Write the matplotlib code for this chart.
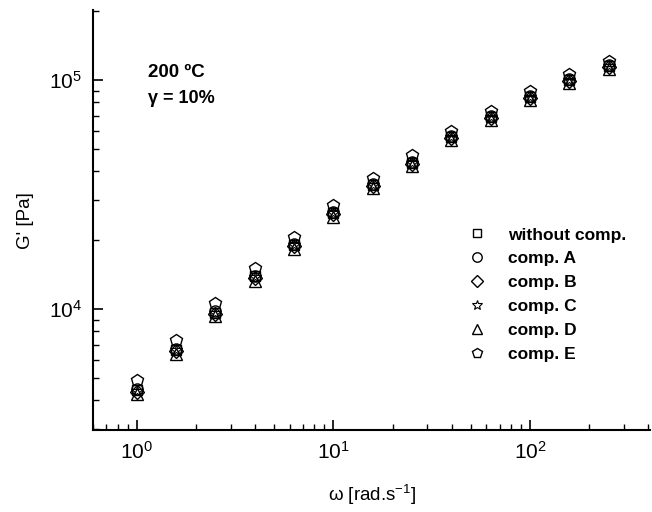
import matplotlib
matplotlib.use("Agg")
import matplotlib.pyplot as plt

plt.rcParams['font.family'] = ['Liberation Sans', 'DejaVu Sans']
plt.rcParams['mathtext.fontset'] = 'custom'
plt.rcParams['mathtext.rm'] = 'Liberation Sans'
plt.rcParams['mathtext.it'] = 'Liberation Sans:italic'
plt.rcParams['mathtext.bf'] = 'Liberation Sans:bold'

# angular frequency [rad/s]
omega = [1, 1.585, 2.512, 3.981, 6.31, 10, 15.85, 25.12, 39.81, 63.1, 100, 158.5, 251.2]

# G' [Pa] for each compound
g_without = [4450, 6650, 9650, 13900, 19100, 26300, 35000, 43600, 56600, 69200, 84500, 100500, 115500]
g_A = [4500, 6700, 9800, 14000, 19300, 26600, 35300, 44000, 57200, 70000, 85500, 101500, 116500]
g_B = [4350, 6550, 9500, 13700, 18900, 26000, 34600, 43200, 56000, 68600, 84000, 99500, 114500]
g_C = [4400, 6600, 9600, 13800, 19000, 26200, 34800, 43400, 56400, 69000, 84300, 100000, 115000]
g_D = [4250, 6400, 9300, 13300, 18400, 25300, 33700, 42100, 54800, 67000, 81800, 97500, 112000]
g_E = [4900, 7300, 10600, 15200, 20600, 28400, 37500, 47000, 60000, 73000, 89500, 106000, 121000]

labels = ["without comp.", "comp. A", "comp. B", "comp. C", "comp. D", "comp. E"]

fig = plt.figure(figsize=(6.52, 5.12), dpi=100)
ax = fig.add_axes([0.143, 0.160, 0.854, 0.820])

ax.plot(omega, g_without, "s", mfc="none", mec="black", ms=7, mew=1, label=labels[0])
ax.plot(omega, g_A, "o", mfc="none", mec="black", ms=8, mew=1, label=labels[1])
ax.plot(omega, g_B, "D", mfc="none", mec="black", ms=7, mew=1, label=labels[2])
ax.plot(omega, g_C, "*", mfc="none", mec="black", ms=9, mew=0.8, label=labels[3])
ax.plot(omega, g_D, "^", mfc="none", mec="black", ms=8, mew=1, label=labels[4])
ax.plot(omega, g_E, "p", mfc="none", mec="black", ms=9, mew=1, label=labels[5])

ax.set_xscale("log")
ax.set_yscale("log")
ax.set_xlim(0.6, 408)
ax.set_ylim(2965, 2.02e5)

ax.spines["top"].set_visible(False)
ax.spines["right"].set_visible(False)
ax.spines["left"].set_linewidth(1.5)
ax.spines["bottom"].set_linewidth(1.5)
ax.tick_params(which="major", direction="in", length=7, width=1.2, labelsize=15, pad=8)
ax.tick_params(which="minor", direction="in", length=4, width=1)

ax.set_xlabel("ω [rad.s$^{-1}$]", fontsize=13.5, labelpad=14)
ax.set_ylabel("G' [Pa]", fontsize=13.5, labelpad=11)

ax.text(0.098, 0.84, "200 ºC", transform=ax.transAxes, fontsize=13.5, fontweight="bold")
ax.text(0.098, 0.78, "γ = 10%", transform=ax.transAxes, fontsize=13, fontweight="bold")

leg = ax.legend(loc="upper left", bbox_to_anchor=(0.645, 0.52), frameon=False,
                prop={"weight": "bold", "size": 12.5}, handletextpad=1.3,
                labelspacing=0.5, markerscale=0.85, handlelength=1)

fig.savefig("out.png", dpi=100)
